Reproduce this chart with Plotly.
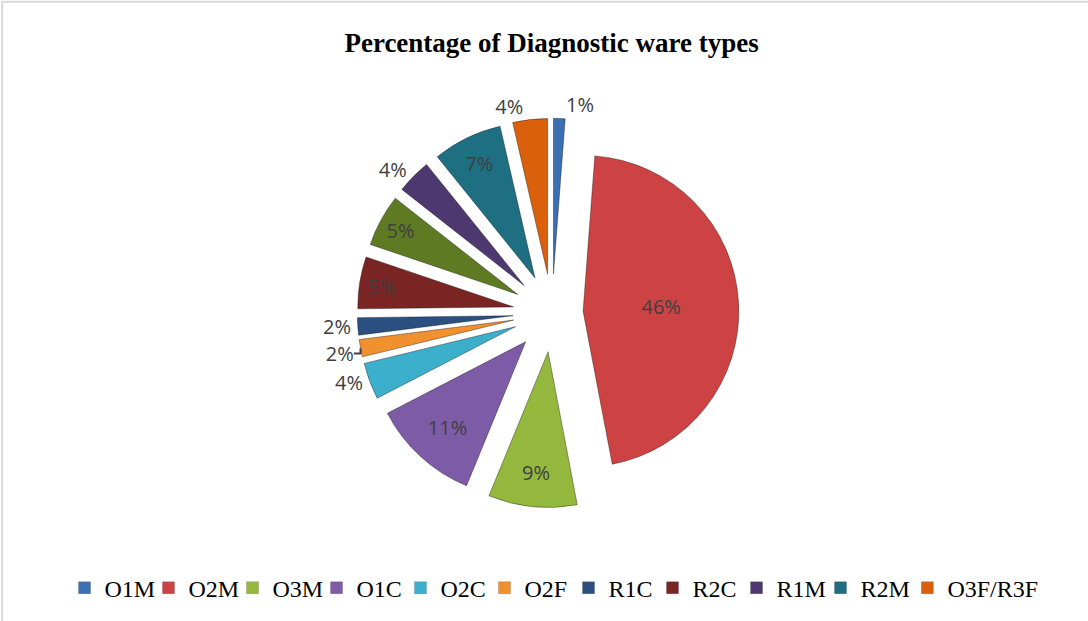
import plotly.graph_objects as go

# ---- data ----
slice_names = ["O1M", "O2M", "O3M", "O1C", "O2C", "O2F", "R1C", "R2C", "(unnamed)", "R1M", "R2M", "O3F/R3F"]
slice_values = [1.2, 45.8, 9.2, 11.2, 3.8, 1.8, 1.8, 5.4, 5.4, 3.6, 7.2, 3.6]
slice_labels = ["1%", "46%", "9%", "11%", "4%", "2%", "2%", "5%", "5%", "4%", "7%", "4%"]
slice_colors = ["#3A6FB2", "#CD4343", "#94B83E", "#7D5BA6", "#3BAFCB", "#F0902F",
                "#2A4F80", "#7A2424", "#5E7A23", "#4E3870", "#1F6F82", "#DB600C"]
label_pos = ["outside", "inside", "inside", "inside", "outside", "outside",
             "outside", "inside", "inside", "outside", "inside", "outside"]
slice_pull = [0.25, 0.2, 0.25, 0.25, 0.25, 0.25, 0.25, 0.25, 0.25, 0.25, 0.25, 0.25]

legend_names = ["O1M", "O2M", "O3M", "O1C", "O2C", "O2F", "R1C", "R2C", "R1M", "R2M", "O3F/R3F"]
legend_colors = ["#3A6FB2", "#CD4343", "#94B83E", "#7D5BA6", "#3BAFCB", "#F0902F",
                 "#2A4F80", "#7A2424", "#4E3870", "#1F6F82", "#DB600C"]

title_text = "Percentage of Diagnostic ware types"

W, H = 1088, 621

fig = go.Figure()

fig.add_trace(go.Pie(
    labels=slice_names,
    values=slice_values,
    text=slice_labels,
    textinfo="text",
    textposition=label_pos,
    insidetextorientation="horizontal",
    sort=False,
    direction="clockwise",
    rotation=0,
    pull=slice_pull,
    marker=dict(colors=slice_colors, line=dict(color="rgba(0,0,0,0.35)", width=1)),
    textfont=dict(family="Open Sans", size=20, color="#404040"),
    outsidetextfont=dict(family="Open Sans", size=20, color="#404040"),
    insidetextfont=dict(family="Open Sans", size=20, color="#404040"),
    domain=dict(x=[0.3280, 0.6867], y=[0.1825, 0.8095]),
    showlegend=False,
    hoverinfo="label+text",
))

n_leg = len(legend_names)
for i, (name, col) in enumerate(zip(legend_names, legend_colors)):
    fig.add_trace(go.Scatter(
        x=[None], y=[None], mode="markers", name=name,
        marker=dict(symbol="square", size=12, color=col,
                    line=dict(color="rgba(0,0,0,0.3)", width=0.5)),
        showlegend=True,
        legend="legend2" if i == n_leg - 1 else "legend",
    ))
    if i == n_leg - 2:
        # invisible spacer entry so the last fixed-width entry is not clipped
        fig.add_trace(go.Scatter(
            x=[None], y=[None], mode="markers", name=" ",
            marker=dict(symbol="square", size=1, color="rgba(0,0,0,0)",
                        line=dict(width=0)),
            showlegend=True, hoverinfo="skip", legend="legend",
        ))

legend_font = dict(family="Liberation Serif", size=24, color="black")

fig.update_layout(
    width=W, height=H,
    margin=dict(l=0, r=0, t=0, b=0),
    paper_bgcolor="white",
    plot_bgcolor="white",
    xaxis=dict(visible=False),
    yaxis=dict(visible=False),
    title=dict(text="<b>" + title_text + "</b>", x=0.507, xanchor="center",
               y=0.932, yanchor="middle",
               font=dict(family="Liberation Serif", size=27, color="black")),
    legend=dict(orientation="h", x=0.0593, xanchor="left", y=0.053, yanchor="middle",
                font=legend_font,
                itemwidth=30, entrywidth=39, entrywidthmode="pixels",
                traceorder="normal", bgcolor="rgba(0,0,0,0)"),
    legend2=dict(orientation="h", x=0.834, xanchor="left", y=0.053, yanchor="middle",
                 font=legend_font, itemwidth=30,
                 traceorder="normal", bgcolor="rgba(0,0,0,0)"),
    uniformtext=dict(minsize=20, mode="show"),
    shapes=[dict(type="rect", xref="paper", yref="paper",
                 x0=0.002, x1=1.05, y0=-0.05, y1=0.997,
                 line=dict(color="#D9D9D9", width=2), layer="below")],
)

fig.write_html("out.html")
